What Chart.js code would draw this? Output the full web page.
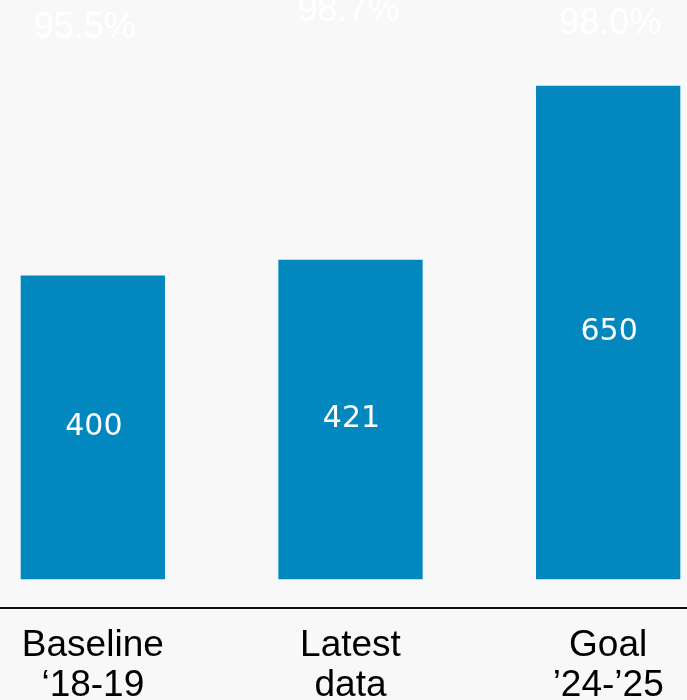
<!DOCTYPE html>
<html>
<head>
<meta charset="utf-8">
<script src="https://cdn.jsdelivr.net/npm/chart.js@4"></script>
<style>
  html, body { margin: 0; padding: 0; background: #f8f8f8; }
  #wrap { width: 687px; height: 700px; overflow: hidden; position: relative; }
  #myChart { position: absolute; left: -36px; top: 0; }
</style>
</head>
<body>
<div id="wrap"><canvas id="myChart" width="773" height="724"></canvas></div>
<script>
// chart values
var categories = [['Baseline', '\u201818-19'], ['Latest', 'data'], ['Goal', '\u201924-\u201925']]
var counts = [400, 421, 650]
var rates = ['95.5%', '98.7%', '98.0%']

// where the faint percentage labels sit (dx from bar centre, baseline from top)
var rateOffsetX = [-8, -2, 2]
var rateBaseline = [38, 21, 34]

var labelPlugin = {
    id: 'labels',
    afterDatasetsDraw(chart) {
        var ctx = chart.ctx
        var meta = chart.getDatasetMeta(0)
        var xs = chart.scales.x
        ctx.save()
        ctx.textAlign = 'center'
        // counts in the middle of each bar
        ctx.fillStyle = '#ffffff'
        ctx.font = '30px "DejaVu Sans"'
        ctx.textBaseline = 'middle'
        meta.data.forEach((bar, i) => {
            let mid = (bar.y + bar.base) / 2
            ctx.fillText(String(counts[i]), bar.x + 1, mid)
        })
        // faint percentages at the top
        ctx.font = '36px "Liberation Sans"'
        ctx.textBaseline = 'alphabetic'
        for (let i = 0; i < rates.length; i++) {
            ctx.fillText(rates[i], xs.getPixelForValue(i) + rateOffsetX[i], chart.chartArea.top + rateBaseline[i])
        }
        ctx.restore()
    }
}

var ctx = document.getElementById('myChart').getContext('2d')
var myChart = new Chart(ctx, {
    type: 'bar',
    data: {
        labels: categories,
        datasets: [{
            data: counts,
            backgroundColor: '#0288bf',
            borderWidth: 0,
            barPercentage: 0.56,
            categoryPercentage: 1
        }]
    },
    options: {
        responsive: false,
        animation: false,
        layout: { padding: 0 },
        plugins: {
            legend: { display: false },
            tooltip: { enabled: false }
        },
        scales: {
            x: {
                grid: { display: false, drawTicks: false },
                border: { display: true, color: '#111111', width: 2 },
                ticks: {
                    color: '#000000',
                    padding: 18,
                    maxRotation: 0,
                    autoSkip: false,
                    font: { family: '"Liberation Sans"', size: 37, lineHeight: 1.08 }
                }
            },
            y: {
                display: false,
                min: -38,
                max: 763
            }
        }
    },
    plugins: [labelPlugin]
})
</script>
</body>
</html>
